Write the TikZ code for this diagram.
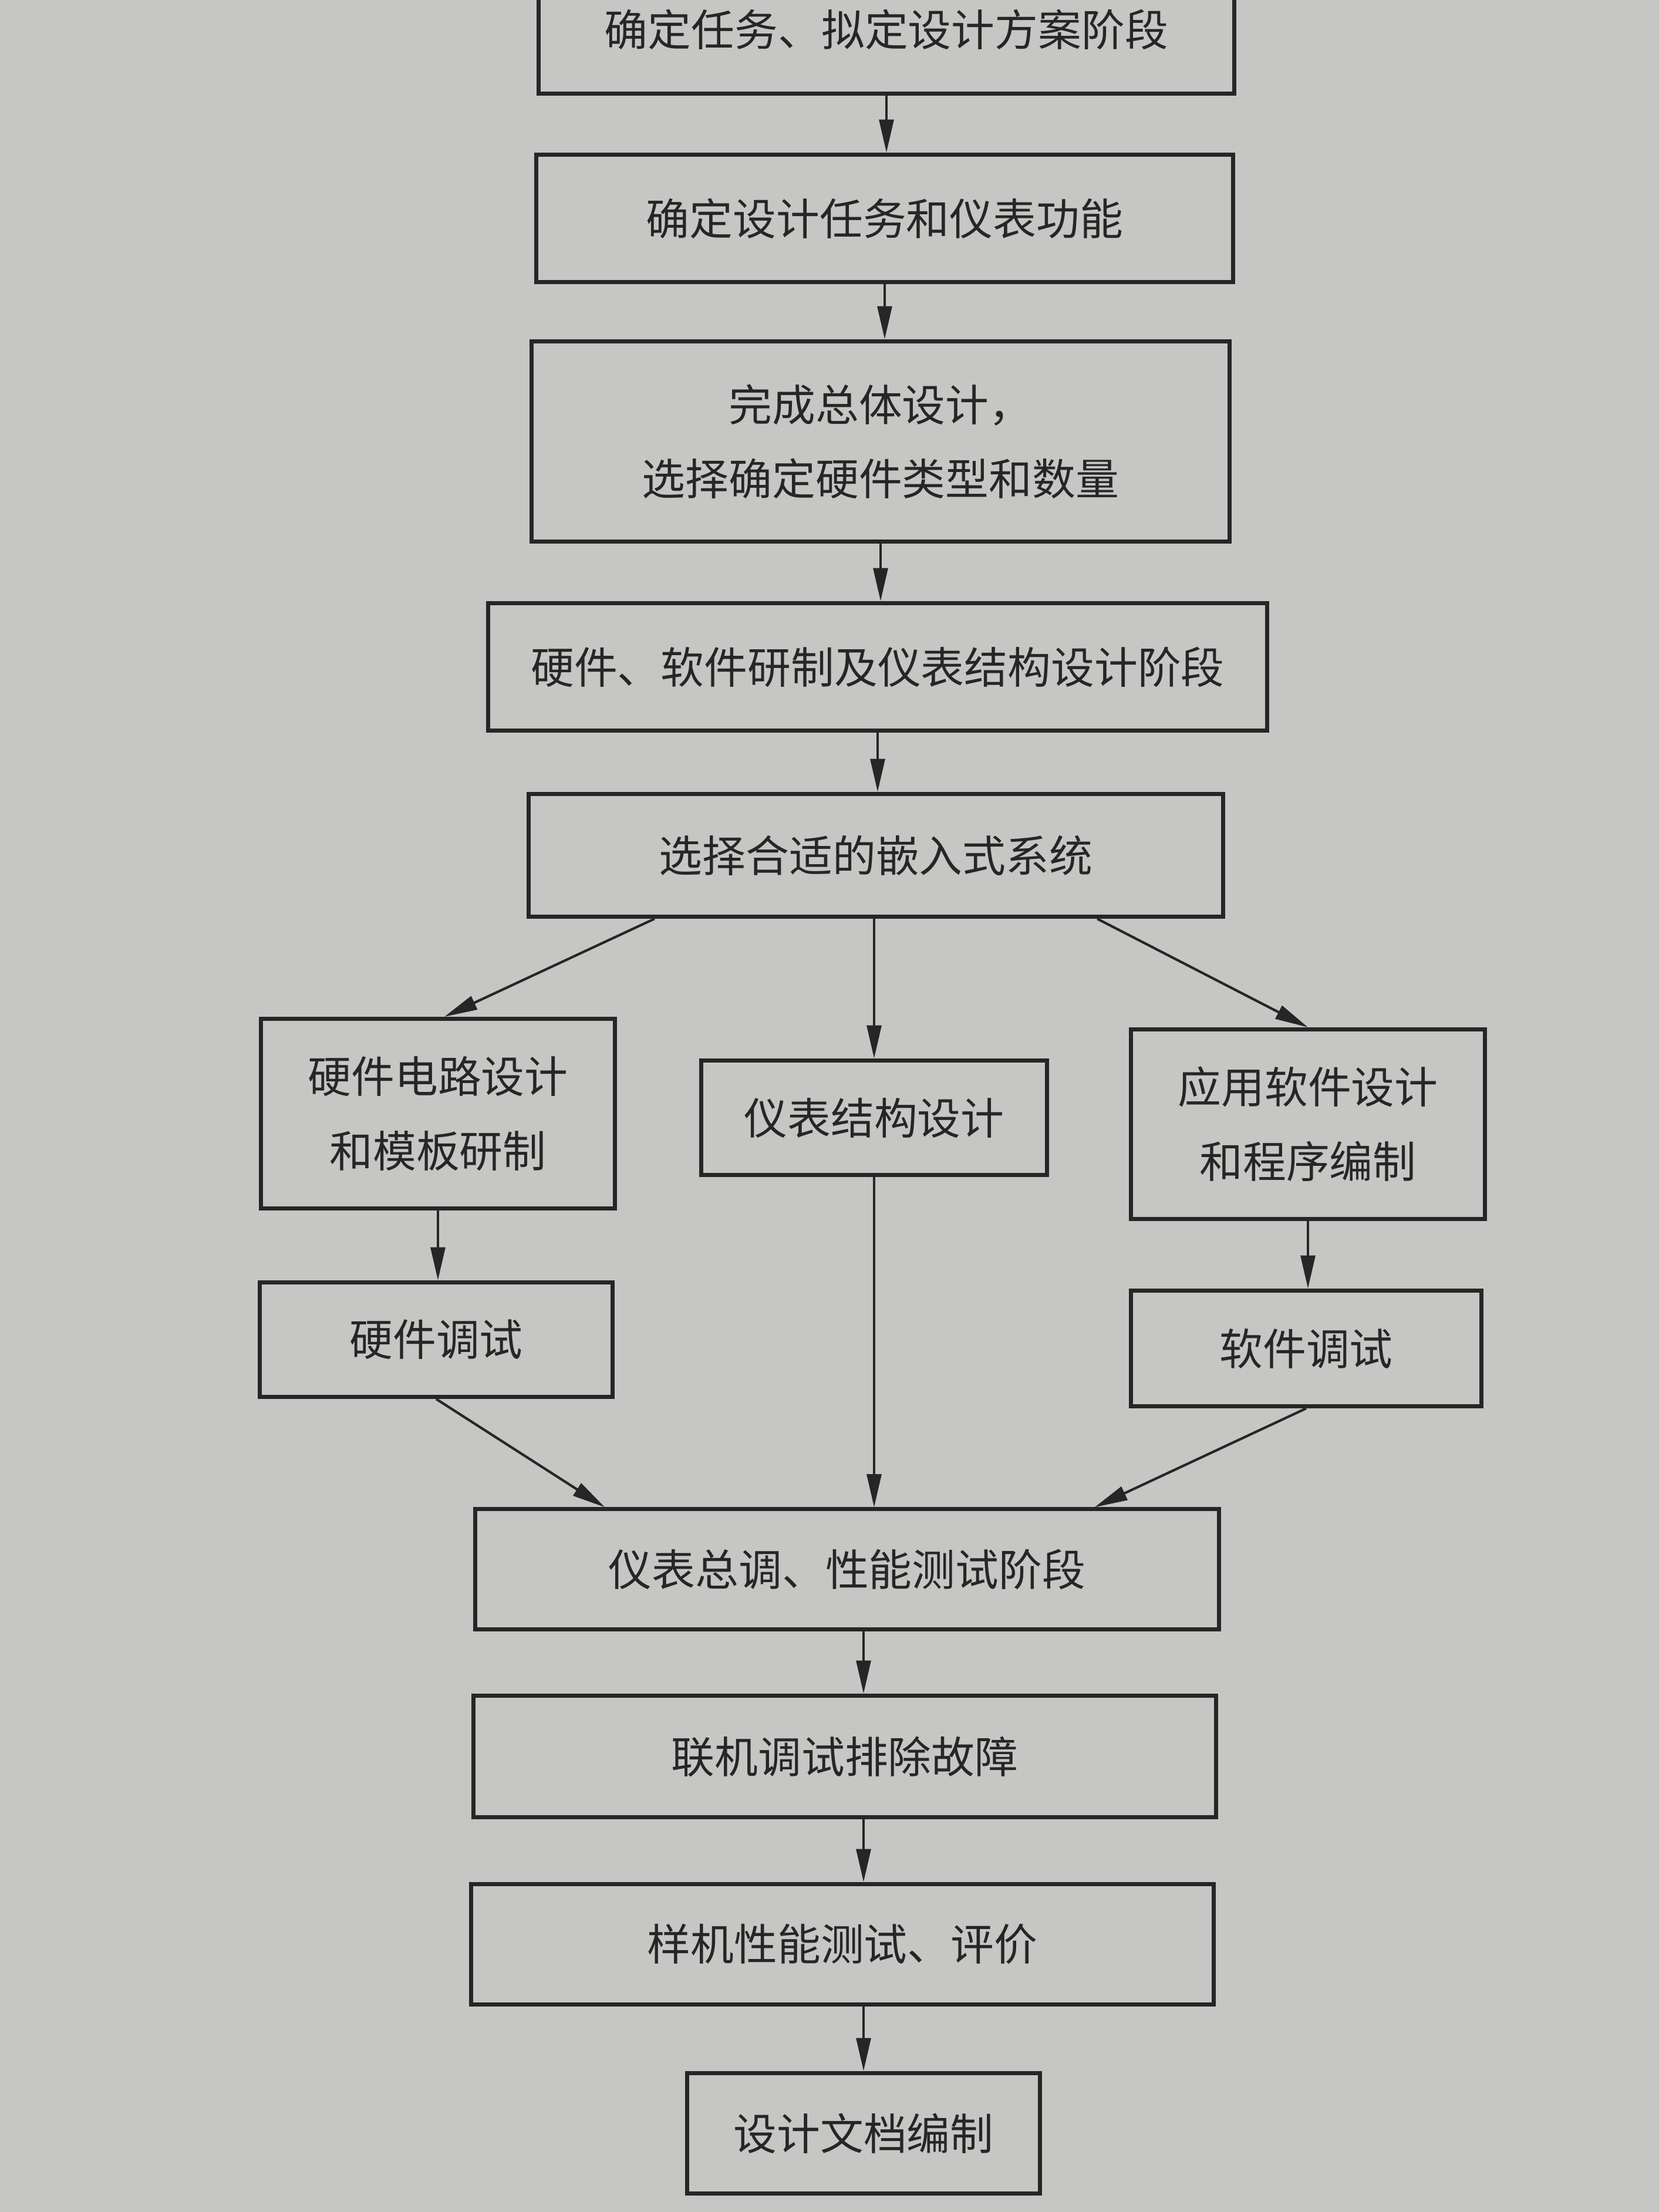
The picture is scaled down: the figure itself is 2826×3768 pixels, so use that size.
\documentclass[tikz,border=0pt]{standalone}
\usepackage{fontspec}
\newfontfamily\cjk{Noto Sans CJK SC}
\usetikzlibrary{arrows.meta, positioning, calc}
\definecolor{paper}{RGB}{198,198,196}
\definecolor{ink}{RGB}{38,38,38}

\begin{document}
\begin{tikzpicture}[
    x=0.01cm, y=-0.01cm,
    base/.style={
        draw=ink,
        fill=paper,
        line width=2pt,
        align=center,
        inner sep=0pt,
        text=ink,
        font=\cjk\fontsize{21pt}{36pt}\selectfont
    },
    widebox/.style={base, minimum width=11.87cm, minimum height=2.17cm},
    smallbox/.style={base, minimum width=6.01cm, minimum height=1.97cm},
    tallbox/.style={base, minimum width=6.02cm, minimum height=3.23cm},
    flow/.style={draw=ink, line width=1.2pt, -{Triangle[length=16pt,width=7pt]}}
]

    % paper
    \useasboundingbox (0,0) rectangle (2826,3768);
    \clip (0,0) rectangle (2826,3768);
    \fill[paper] (0,0) rectangle (2826,3768);

    % STAGE: TASK AND SCHEME
    \node[widebox, minimum width=11.85cm, minimum height=2.18cm] (task) at (1510,50) {确定任务、拟定设计方案阶段};
    \node[widebox] (func) at (1507,372) {确定设计任务和仪表功能};
    \node[widebox, minimum width=11.89cm, minimum height=3.41cm] (overall) at (1500,752) {完成总体设计，\\选择确定硬件类型和数量};

    % STAGE: DEVELOPMENT
    \node[widebox, minimum width=13.27cm] (dev) at (1495,1136) {硬件、软件研制及仪表结构设计阶段};
    \node[widebox, minimum width=11.82cm, minimum height=2.09cm] (emb) at (1492,1457) {选择合适的嵌入式系统};

    \node[tallbox] (hwdes) at (746,1897) {硬件电路设计\\和模板研制};
    \node[smallbox, minimum width=5.89cm, minimum height=1.95cm] (struct) at (1489,1904) {仪表结构设计};
    \node[tallbox] (swdes) at (2228,1915) {应用软件设计\\和程序编制};

    \node[smallbox, minimum height=1.95cm] (hwtest) at (743,2282) {硬件调试};
    \node[smallbox, minimum width=5.96cm] (swtest) at (2225,2297) {软件调试};

    % STAGE: TUNING AND TESTING
    \node[widebox, minimum width=12.66cm, minimum height=2.04cm] (tune) at (1443,2673) {仪表总调、性能测试阶段};
    \node[widebox, minimum width=12.64cm, minimum height=2.07cm] (online) at (1439,2992) {联机调试排除故障};
    \node[widebox, minimum width=12.64cm, minimum height=2.05cm] (proto) at (1435,3312) {样机性能测试、评价};
    \node[smallbox, minimum height=2.05cm] (doc) at (1471,3634) {设计文档编制};

    \draw[flow] (task.south) -- (task.south |- func.north);
    \draw[flow] (func.south) -- (func.south |- overall.north);
    \draw[flow] (overall.south) -- (overall.south |- dev.north);
    \draw[flow] (dev.south) -- (dev.south |- emb.north);

    \draw[flow] ($(emb.south west)!0.183!(emb.south east)$) -- ($(hwdes.north)+(11,0)$);
    \draw[flow] (struct.north |- emb.south) -- (struct.north);
    \draw[flow] ($(emb.south west)!0.817!(emb.south east)$) -- (swdes.north);

    \draw[flow] (hwdes.south) -- (hwdes.south |- hwtest.north);
    \draw[flow] (swdes.south) -- (swdes.south |- swtest.north);

    \draw[flow] (hwtest.south) -- ($(tune.north west)!0.176!(tune.north east)$);
    \draw[flow] (struct.south) -- (struct.south |- tune.north);
    \draw[flow] (swtest.south) -- ($(tune.north west)!0.831!(tune.north east)$);

    \draw[flow] (tune.south -| doc.north) -- (online.north -| doc.north);
    \draw[flow] (online.south -| doc.north) -- (proto.north -| doc.north);
    \draw[flow] (proto.south -| doc.north) -- (doc.north);

\end{tikzpicture}
\end{document}
